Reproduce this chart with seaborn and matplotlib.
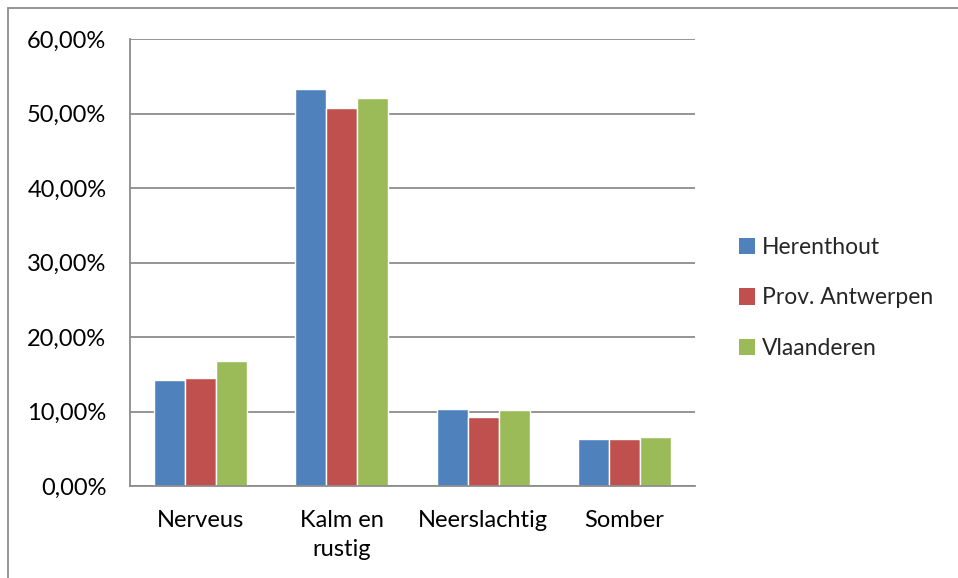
import pandas as pd
import numpy as np
import matplotlib.pyplot as plt
import seaborn as sns
from matplotlib.ticker import FuncFormatter
from matplotlib.patches import Rectangle, Patch

# waarden (in %)
categories = ["Nerveus", "Kalm en\nrustig", "Neerslachtig", "Somber"]
series = ["Herenthout", "Prov. Antwerpen", "Vlaanderen"]
herenthout = [14.2, 53.3, 10.4, 6.3]
prov_antwerpen = [14.5, 50.8, 9.2, 6.3]
vlaanderen = [16.8, 52.1, 10.2, 6.6]
colors = ["#4F81BD", "#C0504D", "#9BBB59"]

df = pd.DataFrame({
    "categorie": categories * 3,
    "reeks": [s for s in series for _ in categories],
    "waarde": herenthout + prov_antwerpen + vlaanderen,
})

sns.set_style("white")
plt.rcParams["font.family"] = ["Lato", "DejaVu Sans"]
fs = 17

fig = plt.figure(figsize=(9.58, 5.78), dpi=100)
ax = fig.add_axes([130 / 958, 1 - 486 / 578, 565 / 958, 447 / 578])

sns.barplot(data=df, x="categorie", y="waarde", hue="reeks", order=categories,
            hue_order=series, palette=colors, width=0.66, gap=0, saturation=1,
            ax=ax, legend=False)

grid = "#8c8c8c"
ax.set_ylim(0, 60)
ax.set_xlim(-0.5, len(categories) - 0.5)
ax.set_yticks(np.arange(0, 61, 10))
ax.yaxis.set_major_formatter(FuncFormatter(lambda v, p: f"{v:.2f}%".replace(".", ",")))
ax.set_xticks(np.arange(-0.5, len(categories), 1))
ax.set_xticklabels([])
for i, c in enumerate(categories):
    ax.annotate(c, xy=(i, 0), xycoords=("data", "axes fraction"), xytext=(0, -17),
                textcoords="offset points", ha="center", va="top", fontsize=fs,
                color="black", linespacing=1.5)
ax.grid(axis="y", color=grid, linewidth=1.3)
ax.set_axisbelow(True)
ax.tick_params(axis="both", length=5, width=1.3, color=grid, labelsize=fs,
               labelcolor="black", pad=12)
ax.tick_params(axis="x", length=7)
for s in ["top", "right"]:
    ax.spines[s].set_visible(False)
for s in ["left", "bottom"]:
    ax.spines[s].set_color(grid)
    ax.spines[s].set_linewidth(1.3)
ax.set_xlabel("")
ax.set_ylabel("")

handles = [Patch(facecolor=c, edgecolor="none") for c in colors]
fig.legend(handles, series, loc="center left", bbox_to_anchor=(718 / 958, 1 - 298 / 578),
           frameon=False, fontsize=16.5, handlelength=0.7, handleheight=0.7,
           handletextpad=0.3, labelspacing=1.3)

# kader rond de grafiek
fig.patches.append(Rectangle((8 / 958, -0.2), 1.2, 1.2 - 8 / 578, transform=fig.transFigure,
                             fill=False, edgecolor="#8c8c8c", linewidth=1.3))

fig.savefig("out.png", dpi=100)
